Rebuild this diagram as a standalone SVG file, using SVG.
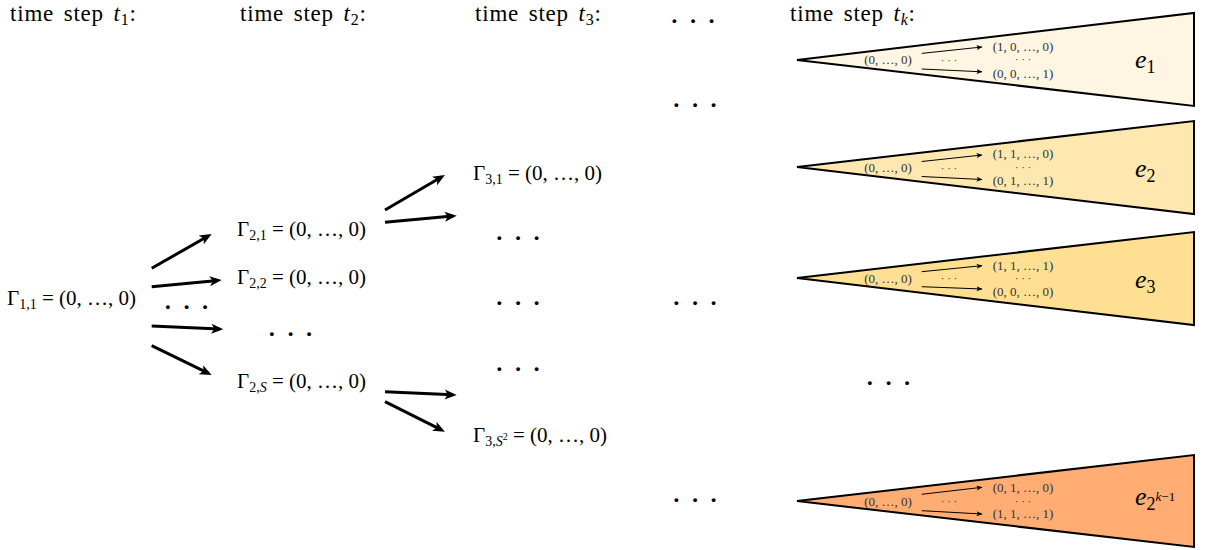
<svg xmlns="http://www.w3.org/2000/svg" width="1211" height="550" viewBox="0 0 1211 550">
<style>
.t{font-family:"Liberation Serif","Times New Roman",serif;fill:#000}
.hdr{font-size:23px;letter-spacing:0.8px;word-spacing:3px}
.m{font-size:21px}
.i{font-style:italic}
.sb{font-size:14px}
.dots{font-size:32px;text-anchor:middle}
.sm{font-size:13px;fill:#333;text-anchor:middle}
.sd{font-size:11px;fill:#333;text-anchor:middle}
.el{font-size:26px}
.tri{stroke:#000;stroke-width:2;stroke-linejoin:miter}
.big{stroke:#000;stroke-width:3;fill:none;marker-end:url(#ah)}
.thin{stroke:#000;stroke-width:1;fill:none;marker-end:url(#ahs)}
</style>
<defs>
<marker id="ah" markerUnits="userSpaceOnUse" markerWidth="13" markerHeight="11" refX="8" refY="5" orient="auto" viewBox="0 0 13 10">
<path d="M0,0 L12,5 L0,10 L3,5 z" fill="#000"/>
</marker>
<marker id="ahs" markerUnits="userSpaceOnUse" markerWidth="7" markerHeight="6" refX="5.5" refY="2.5" orient="auto" viewBox="0 0 7 5">
<path d="M0,0 L6,2.5 L0,5 L1.5,2.5 z" fill="#000"/>
</marker>
</defs>

<g id="headers">
<text class="t hdr" x="10" y="21">time step <tspan class="i">t</tspan><tspan font-size="16" dy="4">1</tspan><tspan dy="-4">:</tspan></text>
<text class="t hdr" x="240" y="21">time step <tspan class="i">t</tspan><tspan font-size="16" dy="4">2</tspan><tspan dy="-4">:</tspan></text>
<text class="t hdr" x="475" y="21">time step <tspan class="i">t</tspan><tspan font-size="16" dy="4">3</tspan><tspan dy="-4">:</tspan></text>
<text class="t dots" x="693" y="32">· · ·</text>
<text class="t hdr" x="790" y="21">time step <tspan class="i">t</tspan><tspan class="i" font-size="16" dy="4">k</tspan><tspan dy="-4">:</tspan></text>
</g>

<g id="g11">
<text class="t m" x="7" y="305">Γ<tspan class="sb" dy="4">1,1</tspan><tspan dy="-4"> = (0, …, 0)</tspan></text>
<text class="t dots" x="186.5" y="318">· · ·</text>
</g>
<g id="g21"><text class="t m" x="237" y="236">Γ<tspan class="sb" dy="4">2,1</tspan><tspan dy="-4"> = (0, …, 0)</tspan></text></g>
<g id="g22"><text class="t m" x="237" y="284">Γ<tspan class="sb" dy="4">2,2</tspan><tspan dy="-4"> = (0, …, 0)</tspan></text></g>
<g id="g2dots"><text class="t dots" x="290.5" y="345">· · ·</text></g>
<g id="g2S"><text class="t m" x="237" y="388">Γ<tspan class="sb" dy="4">2,<tspan class="i">S</tspan></tspan><tspan dy="-4"> = (0, …, 0)</tspan></text></g>

<g id="g31"><text class="t m" x="473" y="180">Γ<tspan class="sb" dy="4">3,1</tspan><tspan dy="-4"> = (0, …, 0)</tspan></text></g>
<g id="g3dots">
<text class="t dots" x="518" y="249">· · ·</text>
<text class="t dots" x="518" y="314">· · ·</text>
<text class="t dots" x="518" y="380">· · ·</text>
</g>
<g id="g3S2"><text class="t m" x="473" y="442">Γ<tspan class="sb" dy="4">3,<tspan class="i">S</tspan></tspan><tspan font-size="10" dy="-6">2</tspan><tspan dy="2"> = (0, …, 0)</tspan></text></g>

<g id="mid-dots">
<text class="t dots" x="695" y="116">· · ·</text>
<text class="t dots" x="695" y="314">· · ·</text>
<text class="t dots" x="695" y="511">· · ·</text>
<text class="t dots" x="888.5" y="394">· · ·</text>
</g>

<g id="e1">
<polygon class="tri" points="797,60 1194,13 1194,106" fill="#FFF5E3"/>
<text class="t sm" x="888" y="64">(0, …, 0)</text>
<text class="t sd" x="949" y="64">· · ·</text>
<text class="t sm" x="1023" y="51">(1, 0, …, 0)</text>
<text class="t sd" x="1023" y="63">· · ·</text>
<text class="t sm" x="1023" y="78">(0, 0, …, 1)</text>
<line class="thin" x1="921.7" y1="53.4" x2="982" y2="47"/>
<line class="thin" x1="921.7" y1="69" x2="982" y2="71.8"/>
<text class="t el" x="1135" y="68"><tspan class="i">e</tspan><tspan font-size="18" dy="5">1</tspan></text>
</g>

<g id="e2">
<polygon class="tri" points="797,167 1194,121 1194,214" fill="#FEE8B0"/>
<text class="t sm" x="888" y="172">(0, …, 0)</text>
<text class="t sd" x="949" y="171.5">· · ·</text>
<text class="t sm" x="1023" y="158">(1, 1, …, 0)</text>
<text class="t sd" x="1023" y="170.5">· · ·</text>
<text class="t sm" x="1023" y="185">(0, 1, …, 1)</text>
<line class="thin" x1="921.7" y1="161.5" x2="982" y2="155"/>
<line class="thin" x1="921.7" y1="176.5" x2="982" y2="179.5"/>
<text class="t el" x="1135" y="177"><tspan class="i">e</tspan><tspan font-size="18" dy="5">2</tspan></text>
</g>

<g id="e3">
<polygon class="tri" points="797,278 1194,232 1194,325" fill="#FFDF91"/>
<text class="t sm" x="888" y="282.5">(0, …, 0)</text>
<text class="t sd" x="949" y="282">· · ·</text>
<text class="t sm" x="1023" y="269.5">(1, 1, …, 1)</text>
<text class="t sd" x="1023" y="281.5">· · ·</text>
<text class="t sm" x="1023" y="295.5">(0, 0, …, 0)</text>
<line class="thin" x1="921.7" y1="271.7" x2="982" y2="265.7"/>
<line class="thin" x1="921.7" y1="286.7" x2="982" y2="289"/>
<text class="t el" x="1135" y="288"><tspan class="i">e</tspan><tspan font-size="18" dy="5">3</tspan></text>
</g>

<g id="ek">
<polygon class="tri" points="797,501 1194,455 1194,547" fill="#FFAD72"/>
<text class="t sm" x="888" y="505.5">(0, …, 0)</text>
<text class="t sd" x="949" y="505">· · ·</text>
<text class="t sm" x="1023" y="491.5">(0, 1, …, 0)</text>
<text class="t sd" x="1023" y="504.5">· · ·</text>
<text class="t sm" x="1023" y="518">(1, 1, …, 1)</text>
<line class="thin" x1="921.7" y1="494.3" x2="982" y2="487.3"/>
<line class="thin" x1="921.7" y1="510.7" x2="982" y2="514"/>
<text class="t el" x="1135" y="505"><tspan class="i">e</tspan><tspan font-size="18" dy="5">2</tspan><tspan class="i" font-size="13" dy="-9">k</tspan><tspan font-size="13">−1</tspan></text>
</g>

<g id="connectors">
<line class="big" x1="151.7" y1="268.3" x2="208.2" y2="236"/>
<line class="big" x1="151.7" y1="286.7" x2="217.7" y2="280.4"/>
<line class="big" x1="151.7" y1="326" x2="219.3" y2="329.1"/>
<line class="big" x1="151.7" y1="345.7" x2="208.1" y2="373.2"/>
<line class="big" x1="385" y1="210" x2="441.5" y2="177"/>
<line class="big" x1="385" y1="222.3" x2="452.7" y2="216.1"/>
<line class="big" x1="385" y1="391.7" x2="452.7" y2="394.8"/>
<line class="big" x1="385" y1="401.7" x2="441.4" y2="429.9"/>
</g>
</svg>
